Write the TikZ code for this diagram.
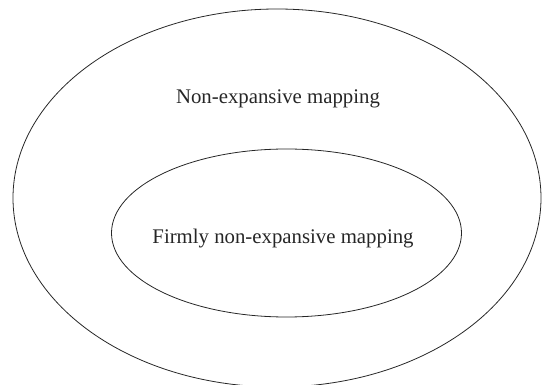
\documentclass[tikz,border=0pt]{standalone}
\usepackage{fontspec}
\setmainfont{Liberation Serif}
\usetikzlibrary{shapes.geometric}
\begin{document}
\begin{tikzpicture}[x=1pt,y=1pt,
  setshape/.style={ellipse,draw=black!85,line width=0.8pt,inner sep=0pt},
  setlabel/.style={anchor=base,inner sep=0pt,text=black!85,font=\fontsize{20.8}{24}\selectfont}]
  \useasboundingbox (0,0) rectangle (542,-385);
  \clip (0,0) rectangle (542,-385);
  % outer set: non-expansive mappings
  \node[setshape,minimum width=528,minimum height=378] (outer) at (277,-198) {};
  % inner set: firmly non-expansive mappings
  \node[setshape,minimum width=350,minimum height=168] (inner) at (286.5,-233) {};
  \node[setlabel] (outerlabel) at (278,-104) {Non-expansive mapping};
  \node[setlabel] (innerlabel) at (283,-244) {Firmly non-expansive mapping};
\end{tikzpicture}
\end{document}
